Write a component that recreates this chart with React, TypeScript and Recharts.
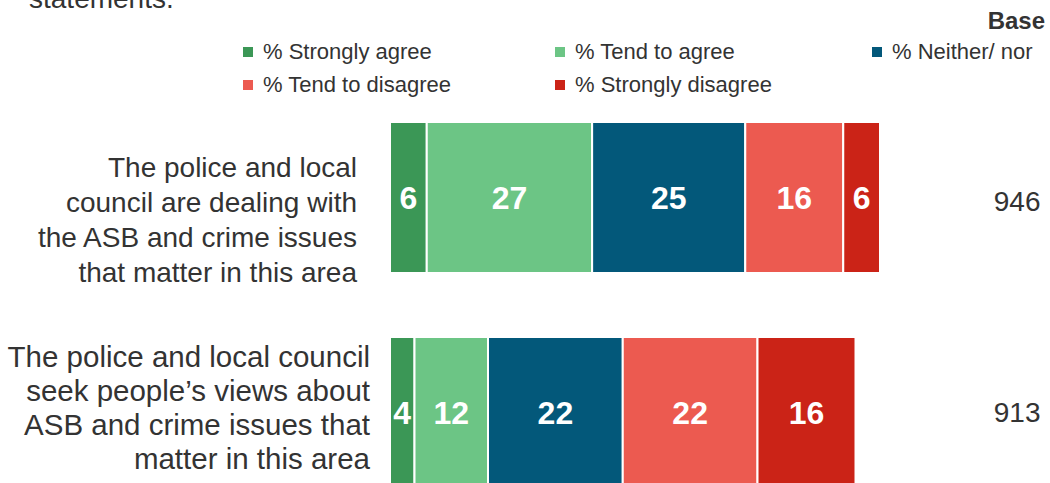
import React from 'react';
import { BarChart, Bar, XAxis, YAxis, Legend, LabelList } from 'recharts';

const categories = [
  'The police and local\ncouncil are dealing with\nthe ASB and crime issues\nthat matter in this area',
  'The police and local council\nseek people\u2019s views about\nASB and crime issues that\nmatter in this area',
];
const baseSizes = [946, 913];
const stronglyAgree = [6, 4];
const tendToAgree = [27, 12];
const neitherNor = [25, 22];
const tendToDisagree = [16, 22];
const stronglyDisagree = [6, 16];

const seriesKeys = ['sa', 'ta', 'nn', 'td', 'sd'];
const seriesNames = ['% Strongly agree', '% Tend to agree', '% Neither/ nor', '% Tend to disagree', '% Strongly disagree'];
const seriesColors = ['#3b9756', '#6cc585', '#03587a', '#ec5a50', '#cb2317'];

const data = categories.map((cat, i) => ({
  cat,
  base: String(baseSizes[i]),
  sa: stronglyAgree[i],
  ta: tendToAgree[i],
  nn: neitherNor[i],
  td: tendToDisagree[i],
  sd: stronglyDisagree[i],
}));

const FONT = '"Liberation Sans", Arial, sans-serif';
const TEXT = '#333333';

const CategoryTick = (props: any) => {
  const { x, y, payload, index } = props;
  const lines = String(payload.value).split('\n');
  // label blocks in the source sit a bit off the bar centres, second one set slightly larger
  const shift = index === 0 ? { dx: -25, dy: 22, fs: 28, lh: 34.7 } : { dx: -12, dy: -6, fs: 29.5, lh: 34 };
  const startY = y + shift.dy - ((lines.length - 1) * shift.lh) / 2;
  return (
    <text x={x + shift.dx} y={startY} textAnchor="end" fill={TEXT} fontSize={shift.fs} fontFamily={FONT} dominantBaseline="central">
      {lines.map((l, i) => (
        <tspan key={i} x={x + shift.dx} y={startY + i * shift.lh}>{l}</tspan>
      ))}
    </text>
  );
};

const BaseTick = (props: any) => {
  const { x, y, payload, index } = props;
  return (
    <text x={x + 30} y={y + (index === 0 ? 4 : 0)} textAnchor="end" fill={TEXT} fontSize={28} fontFamily={FONT} dominantBaseline="central">
      {payload.value}
    </text>
  );
};

const renderLegend = (props: any) => {
  const payload = props.payload || [];
  const byKey: Record<string, any> = {};
  payload.forEach((p: any) => { byKey[p.dataKey] = p; });
  return (
    <div style={{ display: 'grid', gridTemplateColumns: '312px 317px 200px', fontFamily: FONT, fontSize: 22, color: TEXT }}>
      {seriesKeys.map((k, i) => (
        <div key={k} style={{ display: 'flex', alignItems: 'center', height: 33, whiteSpace: 'nowrap' }}>
          <span style={{ width: 10, height: 10, background: byKey[k]?.color ?? seriesColors[i], marginRight: 10, display: 'inline-block' }} />
          <span>{seriesNames[i]}</span>
        </div>
      ))}
    </div>
  );
};

export default function App() {
  return (
    <div style={{ position: 'absolute', left: 0, top: 0, width: 1050, height: 483, overflow: 'hidden', background: '#fff', fontFamily: FONT }}>
      <div style={{ position: 'absolute', left: 29, top: -15, fontSize: 28, lineHeight: '28px', color: TEXT, whiteSpace: 'nowrap' }}>
        statements.
      </div>
      <div style={{ position: 'absolute', right: 5, top: 7, fontSize: 24, fontWeight: 'bold', color: TEXT }}>
        Base
      </div>
      <BarChart
        width={1050}
        height={530}
        data={data}
        layout="vertical"
        margin={{ top: 90, right: 0, bottom: 10, left: 10 }}
      >
        <XAxis type="number" domain={[0, 100]} hide />
        <YAxis
          yAxisId="cat"
          type="category"
          dataKey="cat"
          width={380}
          axisLine={false}
          tickLine={false}
          tick={CategoryTick}
        />
        <YAxis
          yAxisId="base"
          type="category"
          dataKey="base"
          orientation="right"
          width={47.5}
          axisLine={false}
          tickLine={false}
          tick={BaseTick}
        />
        <Legend
          layout="horizontal"
          verticalAlign="middle"
          align="center"
          wrapperStyle={{ position: 'absolute', top: 35, left: 243, width: 800 }}
          content={renderLegend}
        />
        {seriesKeys.map((k, i) => (
          <Bar
            key={k}
            yAxisId="cat"
            dataKey={k}
            name={seriesNames[i]}
            stackId="s"
            fill={seriesColors[i]}
            stroke="#ffffff"
            strokeWidth={2}
            barSize={151}
            isAnimationActive={false}
          >
            <LabelList dataKey={k} position="center" fill="#ffffff" fontSize={32} fontWeight="bold" fontFamily={FONT} />
          </Bar>
        ))}
      </BarChart>
    </div>
  );
}
